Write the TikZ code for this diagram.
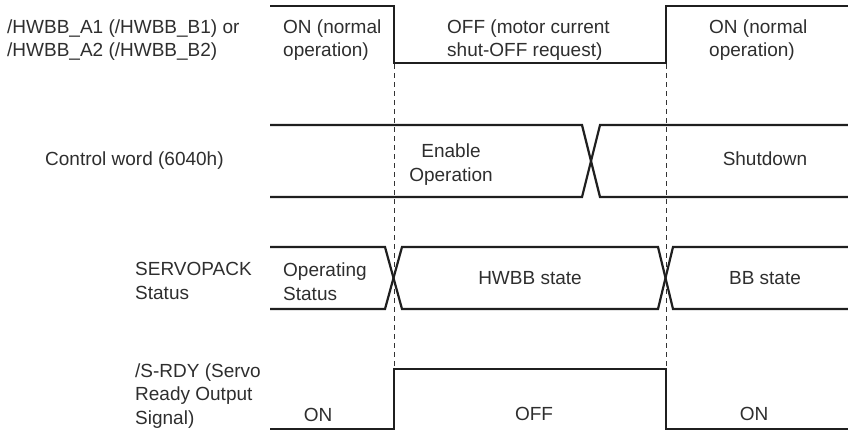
\documentclass[tikz,border=0pt]{standalone}
\usepackage{fontspec}
\setmainfont{Liberation Sans}
\begin{document}
\begin{tikzpicture}[x=1pt,y=-1pt,
  sig/.style={line width=2.2pt,draw=black!88,line join=miter},
  guide/.style={line width=0.9pt,draw=black!80,dash pattern=on 5pt off 4pt},
  lbl/.style={font=\fontsize{19}{23.5}\selectfont,text=black!82,inner sep=0pt,align=left,anchor=base west},
  clbl/.style={font=\fontsize{19}{23.5}\selectfont,text=black!82,inner sep=0pt,align=center,anchor=base}]
\useasboundingbox (0,0) rectangle (848,432);
% guides
\coordinate (g1a) at (394,64); \coordinate (g1b) at (394,369);
\coordinate (g2a) at (666,64); \coordinate (g2b) at (666,369);
\draw[guide] (g1a) -- (g1b);
\draw[guide] (g2a) -- (g2b);
% HWBB signal
\draw[sig] (270,6) -- (394,6) -- (394,63) -- (666,63) -- (666,6) -- (848,6);
% Control word
\draw[sig] (270,125) -- (582,125) -- (600,197) -- (848,197);
\draw[sig] (270,197) -- (582,197) -- (600,125) -- (848,125);
% SERVOPACK status
\draw[sig] (270,247) -- (385,247) -- (402,309) -- (658,309) -- (673,247) -- (848,247);
\draw[sig] (270,309) -- (385,309) -- (402,247) -- (658,247) -- (673,309) -- (848,309);
% S-RDY
\draw[sig] (270,429) -- (394,429) -- (394,369) -- (666,369) -- (666,429) -- (848,429);
% labels (base anchor = baseline of last line)
\node[lbl] (hwbb) at (7,56.5) {/HWBB\_A1 (/HWBB\_B1) or\\/HWBB\_A2 (/HWBB\_B2)};
\node[lbl] (on1) at (283,56.5) {ON (normal\\operation)};
\node[lbl] (off1) at (447,56.5) {OFF (motor current\\shut-OFF request)};
\node[lbl] (on2) at (709,56.5) {ON (normal\\operation)};
\node[lbl] (cw) at (45,165) {Control word (6040h)};
\node[clbl] (en) at (451,181) {Enable\\Operation};
\node[clbl] (sd) at (765,165) {Shutdown};
\node[lbl] (sp) at (135,299) {SERVOPACK\\Status};
\node[lbl] (ops) at (283,300) {Operating\\Status};
\node[clbl] (hw) at (530,284) {HWBB state};
\node[clbl] (bb) at (765,284) {BB state};
\node[lbl] (srdy) at (135,424) {/S-RDY (Servo\\Ready Output\\Signal)};
\node[clbl] (on3) at (318,421) {ON};
\node[clbl] (off3) at (534,420) {OFF};
\node[clbl] (on4) at (754,420) {ON};
\end{tikzpicture}
\end{document}
